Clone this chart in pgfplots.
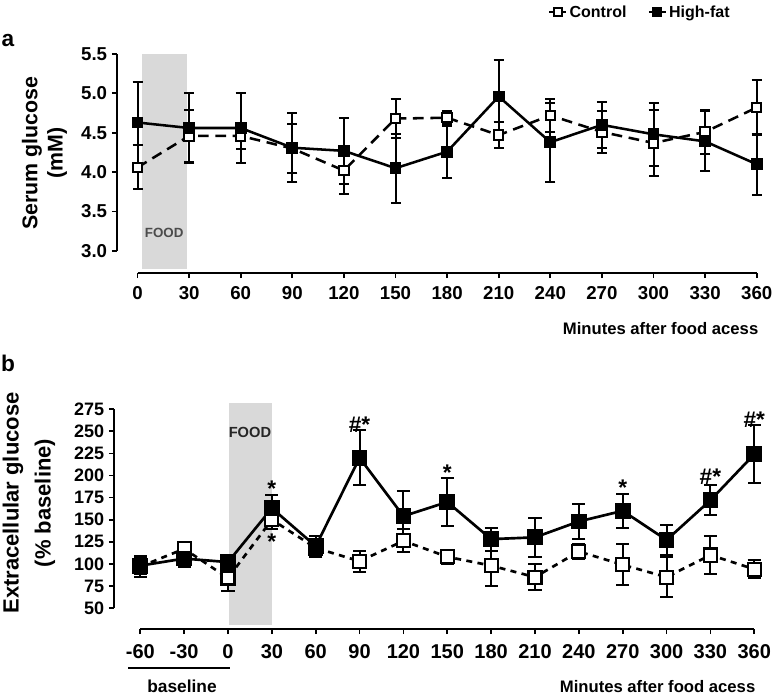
\documentclass[border=0pt]{standalone}
\usepackage{pgfplots}
\pgfplotsset{compat=1.18}
\usepackage{fontspec}
\setmainfont{Liberation Sans}

\pgfplotstableread{
x y e
0 4.06 0.28
30 4.46 0.33
60 4.46 0.16
90 4.30 0.31
120 4.02 0.30
150 4.68 0.25
180 4.69 0.08
210 4.47 0.16
240 4.72 0.21
270 4.51 0.27
300 4.37 0.42
330 4.51 0.28
360 4.82 0.35
}\ctrlA
\pgfplotstableread{
x y e
0 4.63 0.51
30 4.56 0.44
60 4.56 0.45
90 4.31 0.44
120 4.27 0.42
150 4.05 0.44
180 4.26 0.33
210 4.96 0.46
240 4.38 0.50
270 4.60 0.29
300 4.48 0.40
330 4.39 0.38
360 4.10 0.39
}\hfA
\pgfplotstableread{
x y e
-60 97 12
-30 117 8
0 84 15
30 150 10
60 118 8
90 103 12
120 126 13
150 108 8
180 98 23
210 85 15
240 114 8
270 99 23
300 85 23
330 110 21
360 94 10
}\ctrlB
\pgfplotstableread{
x y e
-60 98 10
-30 106 10
0 102 5
30 163 15
60 120 12
90 220 31
120 154 29
150 170 27
180 128 13
210 130 22
240 148 20
270 160 19
300 127 17
330 172 17
360 224 33
}\hfB

\pgfplotsset{
  base/.style={
    scale only axis, clip=false,
    axis x line*=bottom, axis y line*=left,
    axis line style={draw=none},
    tick align=outside, major tick length=3.8pt,
    tick style={black, line width=1.3pt},
    minor tick num=0,
    /pgf/number format/assume math mode=true,
    ticklabel style={font=\bfseries\fontsize{14}{14}\selectfont},
  },
  ebA/.style={error bars/.cd, y dir=both, y explicit,
    error bar style={line width=1.5pt, solid},
    error mark options={rotate=90, mark size=3.75pt, line width=1.5pt, solid}},
  ebB/.style={error bars/.cd, y dir=both, y explicit,
    error bar style={line width=1.5pt, solid},
    error mark options={rotate=90, mark size=4.9pt, line width=1.5pt, solid}},
}

\begin{document}
\begin{tikzpicture}
\path[use as bounding box] (0,0) rectangle (580.5pt,-522.75pt);

% ---------- panel a ----------
\begin{axis}[base,
  at={(87.675pt,-204.75pt)}, anchor=south west,
  width=479.85pt, height=164.3pt,
  xmin=-12, xmax=360, ymin=2.72, ymax=5.5,
  xtick={0,30,...,360}, ytick={3,3.5,...,5.5},
  xticklabel style={yshift=-3pt},
  yticklabel style={/pgf/number format/.cd, fixed, fixed zerofill, precision=1},
  legend style={at={(axis description cs:0.818,1.19)}, anchor=center, draw=none, fill=none,
    legend columns=2, font=\bfseries\fontsize{12}{12}\selectfont,
    /tikz/every even column/.append style={column sep=14pt}},
  legend image code/.code={\draw[mark repeat=2,mark phase=2,#1] plot coordinates {(0cm,0cm) (0.22cm,0cm) (0.44cm,0cm)};},
]
\fill[black!15] (axis cs:2.6,5.5) rectangle (axis cs:28.8,2.77);
\draw[line width=1.5pt] (axis cs:-12,3) -- (axis cs:-12,5.5);
\draw[line width=1.5pt] (axis cs:0,2.72) -- (axis cs:360,2.72);
\node[font=\bfseries\fontsize{10}{10}\selectfont, text=black!70] at (axis cs:15.5,3.23) {FOOD};

\addlegendimage{solid, line width=1.5pt, mark=square*, mark size=3pt, mark options={fill=white, line width=1.5pt}}
\addlegendentry{Control}
\addlegendimage{solid, line width=1.5pt, mark=square*, mark size=3pt, mark options={fill=black}}
\addlegendentry{High-fat}

\addplot[forget plot, black, line width=1.9pt, dash pattern=on 8pt off 5pt, mark=square*,
  mark size=3.5pt, mark options={solid, fill=white, line width=1.5pt}, ebA]
  table[x=x, y=y, y error=e] {\ctrlA};
\addplot[forget plot, black, line width=1.9pt, mark=square*,
  mark size=3.5pt, mark options={solid, fill=black}, ebA]
  table[x=x, y=y, y error=e] {\hfA};
\end{axis}

% ---------- panel b ----------
\begin{axis}[base,
  at={(85.5pt,-471.75pt)}, anchor=south west,
  width=480.2pt, height=169.5pt,
  xmin=-78, xmax=360, ymin=26.3, ymax=282,
  xtick={-60,-30,...,360}, ytick={50,75,...,275},
  xticklabel style={font=\bfseries\fontsize{15}{15}\selectfont, yshift=-4.5pt},
  yticklabel style={font=\bfseries\fontsize{13.5}{13.5}\selectfont},
]
\fill[black!15] (axis cs:0.7,282) rectangle (axis cs:30.1,30.8);
\draw[line width=1.5pt] (axis cs:-78,50) -- (axis cs:-78,275);
\draw[line width=1.5pt] (axis cs:-60,26.3) -- (axis cs:360,26.3);
\node[font=\bfseries\fontsize{11}{11}\selectfont, text=black!85] at (axis cs:15,249) {FOOD};

\addplot[black, line width=2pt, dash pattern=on 4.5pt off 4pt, mark=square*,
  mark size=4.9pt, mark options={solid, fill=white, line width=1.6pt}, ebB]
  table[x=x, y=y, y error=e] {\ctrlB};
\addplot[black, line width=2pt, mark=square*,
  mark size=4.9pt, mark options={solid, fill=black}, ebB]
  table[x=x, y=y, y error=e] {\hfB};

\begin{scope}[every node/.style={font=\bfseries\fontsize{17}{17}\selectfont, inner sep=0pt}]
\node at (axis cs:30,185) {*};
\node at (axis cs:30,125) {*};
\node at (axis cs:90,258) {\#*};
\node at (axis cs:150,203) {*};
\node at (axis cs:270,186) {*};
\node at (axis cs:330,199) {\#*};
\node at (axis cs:360,263) {\#*};
\end{scope}
\end{axis}

% ---------- free text ----------
\node[font=\bfseries\fontsize{17}{17}\selectfont] at (6pt,-30.75pt) {a};
\node[font=\bfseries\fontsize{17}{17}\selectfont] at (6pt,-272.25pt) {b};
\node[rotate=90, align=center, font=\bfseries\fontsize{16}{19}\selectfont] at (33.4pt,-114.75pt) {Serum glucose\\(mM)};
\node[rotate=90, align=center, font=\bfseries\fontsize{16.5}{24}\selectfont] at (21.75pt,-377.25pt) {Extracellular glucose\\(\% baseline)};
\node[anchor=east, font=\bfseries\fontsize{12.5}{12.5}\selectfont] at (572.25pt,-246.75pt) {Minutes after food acess};
\node[anchor=east, font=\bfseries\fontsize{12.5}{12.5}\selectfont] at (570pt,-515.25pt) {Minutes after food acess};
\node[font=\bfseries\fontsize{13}{13}\selectfont] at (136.5pt,-514.5pt) {baseline};
\draw[line width=1.5pt] (96pt,-501pt) -- (172.5pt,-501pt);
\end{tikzpicture}
\end{document}
